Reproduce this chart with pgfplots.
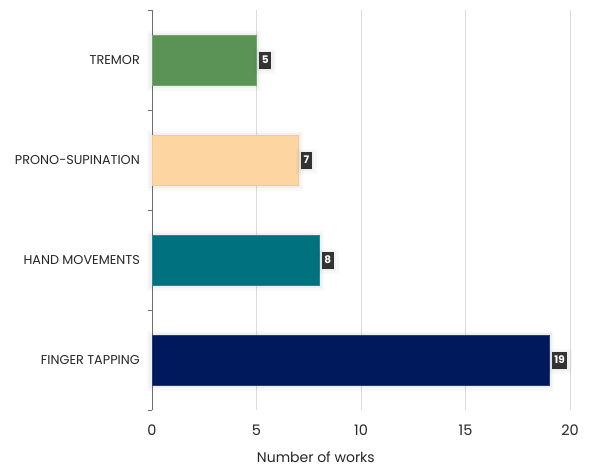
\documentclass[border=0pt]{standalone}
\usepackage{fontspec}
\setmainfont{Poppins}
\usepackage{pgfplots}
\pgfplotsset{compat=1.18}
\definecolor{tremor}{HTML}{5B9357}
\definecolor{prono}{HTML}{FDD5A1}
\definecolor{hand}{HTML}{00727F}
\definecolor{finger}{HTML}{00195C}
\definecolor{labelbox}{HTML}{333333}
\definecolor{gridgrey}{HTML}{DCDCDC}
\definecolor{axisgrey}{HTML}{6E6E6E}
\definecolor{textgrey}{HTML}{262626}

% soft halo drawn behind each bar
\tikzset{
  softshadow/.style={
    preaction={draw=black, draw opacity=0.025, line width=10pt,
      transform canvas={yshift=-1.5pt}},
    preaction={draw=black, draw opacity=0.035, line width=5pt,
      transform canvas={yshift=-1pt}},
  },
}

\begin{document}
\begin{tikzpicture}[x=1pt,y=1pt]
\path[use as bounding box] (-152,-58) rectangle (440,410);
\begin{axis}[
  at={(0,0)}, anchor=south west,
  scale only axis, width=418pt, height=400pt,
  xmin=0, xmax=20, ymin=-0.5, ymax=3.5,
  xbar, bar width=50pt, bar shift=0pt,
  axis lines*=left,
  x axis line style={draw=none},
  y axis line style={draw=axisgrey, line width=0.9pt},
  xtick={0,5,10,15,20},
  xmajorgrids, major grid style={draw=gridgrey, line width=0.7pt},
  ytick={0,1,2,3},
  yticklabels={FINGER TAPPING, HAND MOVEMENTS, PRONO-SUPINATION, TREMOR},
  major tick length=0pt,
  extra y ticks={-0.5,0.5,1.5,2.5,3.5},
  extra y tick labels={},
  extra y tick style={major tick length=4pt, tick align=outside,
    tick style={draw=axisgrey, line width=0.8pt}, grid=none},
  /pgf/number format/assume math mode=true,
  x tick label style={font=\fontsize{14.5}{14.5}\selectfont, text=textgrey,
    inner sep=0pt, anchor=north, yshift=-15pt},
  y tick label style={font=\fontsize{12.8}{12.8}\selectfont, text=textgrey,
    inner sep=0pt, anchor=east, xshift=-12pt},
  xlabel={Number of works},
  xlabel style={font=\fontsize{14}{14}\selectfont, text=textgrey,
    at={(rel axis cs:0.392,0)}, anchor=north, inner sep=0pt, yshift=-42pt},
  nodes near coords,
  every node near coord/.append style={fill=labelbox, text=white,
    font=\fontsize{10.5}{10.5}\selectfont\bfseries, inner xsep=2.5pt,
    inner ysep=0pt, minimum height=15pt, anchor=west, xshift=2.5pt,
    softshadow},
  clip=false,
]
\addplot[fill=finger, draw=finger!85!white, line width=0.6pt, softshadow]
  coordinates {(19,0)};
\addplot[fill=hand, draw=hand!85!white, line width=0.6pt, softshadow]
  coordinates {(8,1)};
\addplot[fill=prono, draw=prono!95!black, line width=0.6pt, softshadow]
  coordinates {(7,2)};
\addplot[fill=tremor, draw=tremor!85!white, line width=0.6pt, softshadow]
  coordinates {(5,3)};
\end{axis}
\end{tikzpicture}
\end{document}
